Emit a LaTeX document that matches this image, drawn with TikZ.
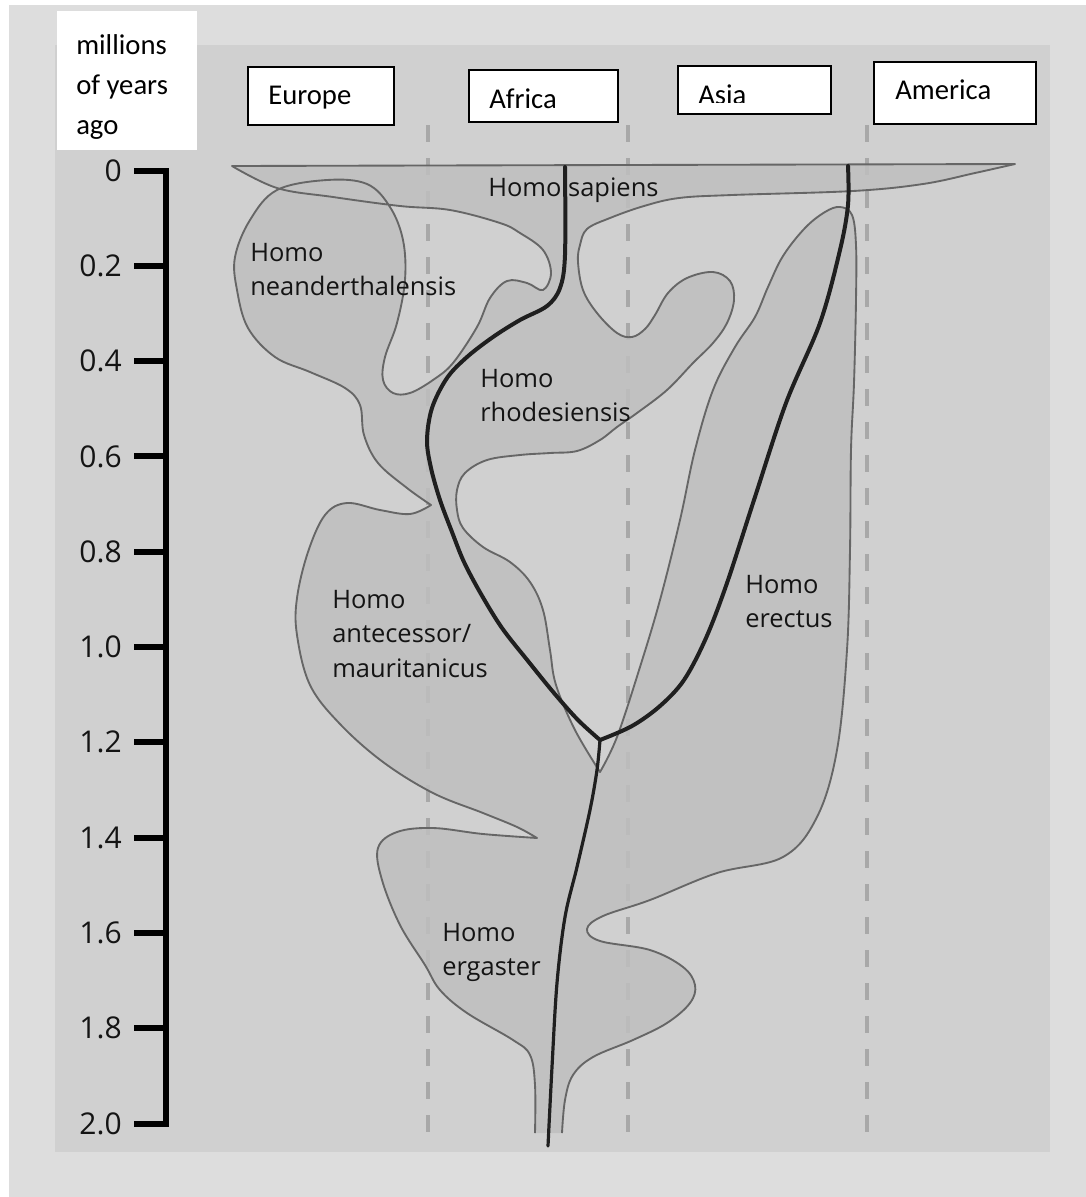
\documentclass[tikz,border=0pt]{standalone}
\usepackage{fontspec}
\newfontfamily\osans{Open Sans}
\newfontfamily\calib{Carlito}
\definecolor{outerbg}{gray}{0.866}
\definecolor{panelbg}{gray}{0.815}
\definecolor{blobfill}{gray}{0.755}
\definecolor{blobedge}{gray}{0.40}
\definecolor{dashcol}{gray}{0.66}
\definecolor{heavy}{gray}{0.12}
\definecolor{labelink}{gray}{0.08}
\tikzset{
  blobline/.style={draw=blobedge, line width=1.4pt, line join=round},
  lineage/.style={draw=heavy, line width=3pt, line cap=round, line join=round},
  stemline/.style={draw=heavy, line width=2.4pt, line cap=round, line join=round},
  guide/.style={draw=dashcol, line width=3pt, dash pattern=on 12.75pt off 12pt},
  axisline/.style={draw=black, line width=4.5pt},
  regbox/.style={draw=black, line width=1.5pt, fill=white, inner sep=0pt, anchor=north west},
  regtext/.style={font=\calib\fontsize{21.5pt}{30pt}\selectfont, anchor=base west, inner sep=0pt},
  species/.style={font=\osans\fontsize{19.1pt}{25.9pt}\selectfont, align=left, anchor=north west, inner sep=0pt, text=labelink},
  ticklabel/.style={font=\osans\fontsize{22.5pt}{24pt}\selectfont, anchor=east, inner sep=0pt, text=labelink},
}
\def\blobpath{
 plot[smooth, tension=0.6] coordinates {(535,1133) (535,1085) (530,1055) (513,1040) (467,1013) (440,990) (425,965) (400,925) (382,880) (378,848) (397,832) (433,828) (483,834) (537,838)}
 -- plot[smooth, tension=0.6] coordinates {(537,838) (517,827) (483,813) (433,793) (383,762) (340,724) (310,685) (297,635) (297,598) (308,552) (325,515) (347,503) (380,510) (410,514) (431,505)}
 -- plot[smooth, tension=0.6] coordinates {(431,505) (407,488) (378,463) (364,435) (360,405) (345,388) (310,372) (275,357) (248,328) (237,290) (235,257) (250,220) (277,190) (327,180) (367,184) (390,207) (403,240) (405,280) (397,323) (385,357) (383,380) (393,393) (410,393) (433,380) (453,363) (477,327) (490,298) (507,281) (527,283) (543,290) (551,273) (543,250) (520,233) (500,223) (450,210) (400,206) (333,197) (277,188) (232,166)}
 -- (1015,164)
 -- plot[smooth, tension=0.6] coordinates {(1015,164) (975,173) (923,184) (853,191) (732,195) (679,198) (644,206) (610,218) (587,229) (580,245) (578,262) (583,290) (597,313) (617,333) (632,337) (645,329) (655,315) (668,293) (687,278) (713,272) (730,281) (734,300) (727,323) (713,343) (693,363) (667,390) (637,413) (617,427) (600,440) (577,451) (550,453) (520,455) (487,460) (465,473) (457,490) (457,510) (463,528) (483,547) (510,562) (530,582) (543,610) (550,650) (556,685) (575,730) (600,772)}
 -- plot[smooth, tension=0.6] coordinates {(600,772) (617,737) (640,667) (660,600) (680,520) (695,450) (713,390) (735,347) (755,317) (768,287) (783,256) (805,228) (825,212) (840,207) (852,215) (856,245) (856,300) (854,383) (851,450) (850,550) (847,650) (837,750) (817,817) (783,857) (717,873) (650,900) (603,916) (587,929) (600,941) (650,950) (683,967) (695,985) (690,1003) (667,1023) (633,1040) (593,1057) (573,1075) (565,1100) (562,1133)}
}
\begin{document}
\begin{tikzpicture}[x=0.75pt, y=-0.75pt]
\useasboundingbox (0,0) rectangle (1086,1197);
% backgrounds
\fill[white] (0,0) rectangle (1086,1197);
\fill[outerbg] (9,5) rectangle (1086,1197);
\fill[panelbg] (55,45) rectangle (1050,1152);
% label box for the time axis
\node[fill=white, inner sep=0pt, anchor=north west, minimum width=140*0.75pt, minimum height=139*0.75pt] (yearsBox) at (57,11) {};
\node[font=\calib\fontsize{21.5pt}{30pt}\selectfont, align=left, anchor=north west, inner sep=0pt] (years) at (76,34) {millions\\of years\\ago};
% region boxes
\node[regbox, minimum width=146*0.75pt, minimum height=58*0.75pt] (europeBox) at (247,66) {};
\node[regtext] (europe) at (268,104) {Europe};
\node[regbox, minimum width=149*0.75pt, minimum height=52*0.75pt] (africaBox) at (468,69) {};
\node[regtext] (africa) at (489,108) {Africa};
\node[regbox, minimum width=153*0.75pt, minimum height=48*0.75pt] (asiaBox) at (677,65) {};
\begin{scope}
  \clip (677,65) rectangle (830,102.5);
  \node[regtext] (asia) at (698,104.5) {Asia};
\end{scope}
\node[regbox, minimum width=162*0.75pt, minimum height=62*0.75pt] (americaBox) at (873,61) {};
\node[regtext] (america) at (895,99) {America};
% dashed region separators (under the blobs)
\foreach \gx in {428,628,867} \draw[guide] (\gx,125) -- (\gx,1140);
% species ranges
\fill[blobfill] \blobpath;
\foreach \gx in {428,628,867} \draw[guide, draw opacity=0.22] (\gx,125) -- (\gx,1140);
\draw[blobline] \blobpath;
% lineages
\coordinate (sapTop) at (565,167);
\coordinate (ereTop) at (848,166);
\coordinate (junc) at (600,740);
\coordinate (root) at (548,1146);
\draw[lineage] plot[smooth, tension=0.55] coordinates {(sapTop) (565,255) (560,288) (547,306) (520,320) (493,337) (467,357) (447,378) (432,408) (427,440) (431,468) (440,500) (452,532) (464,562) (481,594) (502,628) (528,661) (554,693) (578,720) (junc)};
\draw[lineage] plot[smooth, tension=0.55] coordinates {(ereTop) (848,205) (840,250) (820,323) (786,403) (754,500) (727,583) (706,638) (684,680) (660,706) (632,726) (junc)};
\draw[stemline] plot[smooth, tension=0.55] coordinates {(junc) (597,770) (590,810) (577,867) (565,917) (557,983) (552,1067) (root)};
% species labels
\node[font=\osans\fontsize{19.1pt}{25.9pt}\selectfont, anchor=base west, inner sep=0pt, text=labelink] (sapiens) at (488,196) {Homo sapiens};
\node[species] (neander) at (250,243) {Homo\\neanderthalensis};
\node[species] (rhodes) at (480,369) {Homo\\rhodesiensis};
\node[species] (antec) at (332,590) {Homo\\antecessor/\\mauritanicus};
\node[species] (ergas) at (442,923) {Homo\\ergaster};
\node[species] (erect) at (745,575) {Homo\\erectus};
% time axis
\draw[axisline] (134,170.5) -- (166,170.5) -- (166,1123.5) -- (134,1123.5);
\foreach \lab [count=\i from 0] in {0,0.2,0.4,0.6,0.8,1.0,1.2,1.4,1.6,1.8,2.0} {
  \node[ticklabel] (tick\i) at (122,{170.5+\i*95.3}) {\lab};
  \draw[axisline] (134,{170.5+\i*95.3}) -- (166,{170.5+\i*95.3});
}
\end{tikzpicture}
\end{document}
